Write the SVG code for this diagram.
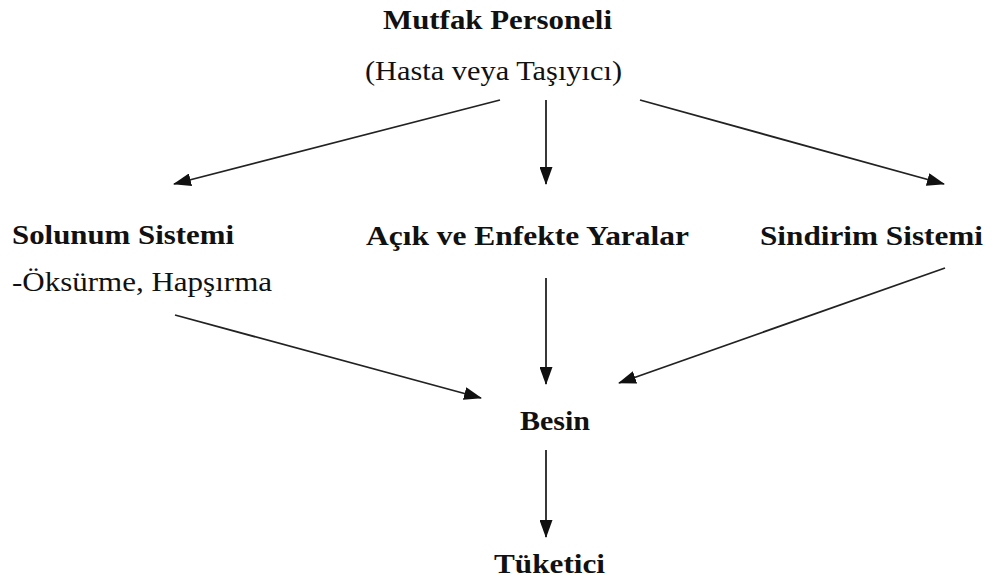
<svg xmlns="http://www.w3.org/2000/svg" width="995" height="580" viewBox="0 0 995 580">
<style>
text{font-family:"Liberation Serif","Times New Roman",serif;font-size:28px;fill:#111}
.b{font-weight:bold}
.c line{stroke:#222;stroke-width:1.8;marker-end:url(#ah)}
</style>
<defs>
<marker id="ah" viewBox="0 0 18 13" refX="17" refY="6.5" markerWidth="18" markerHeight="13" markerUnits="userSpaceOnUse" orient="auto">
<path d="M0,0 L18,6.5 L0,13 z" fill="#111"/>
</marker>
</defs>
<rect width="995" height="580" fill="#fff"/>
<g id="mutfak">
<text class="b" x="383" y="29" textLength="229" lengthAdjust="spacingAndGlyphs">Mutfak Personeli</text>
<text x="365" y="80" textLength="257" lengthAdjust="spacingAndGlyphs">(Hasta veya Taşıyıcı)</text>
</g>
<g id="solunum">
<text class="b" x="12" y="244" textLength="222" lengthAdjust="spacingAndGlyphs">Solunum Sistemi</text>
<text x="12" y="291" textLength="260" lengthAdjust="spacingAndGlyphs">-Öksürme, Hapşırma</text>
</g>
<g id="acik">
<text class="b" x="366" y="245" textLength="323" lengthAdjust="spacingAndGlyphs">Açık ve Enfekte Yaralar</text>
</g>
<g id="sindirim">
<text class="b" x="760" y="245" textLength="223" lengthAdjust="spacingAndGlyphs">Sindirim Sistemi</text>
</g>
<g id="besin">
<text class="b" x="520" y="430" textLength="70" lengthAdjust="spacingAndGlyphs">Besin</text>
</g>
<g id="tuketici">
<text class="b" x="494" y="573" textLength="111" lengthAdjust="spacingAndGlyphs">Tüketici</text>
</g>
<g id="connectors" class="c">
<line x1="500" y1="100" x2="174" y2="184"/>
<line x1="546" y1="100" x2="546" y2="184"/>
<line x1="640" y1="100" x2="944" y2="184"/>
<line x1="175" y1="315" x2="481" y2="398"/>
<line x1="546" y1="278" x2="546" y2="384"/>
<line x1="945" y1="268" x2="619" y2="383"/>
<line x1="546" y1="450" x2="546" y2="537"/>
</g>
</svg>
